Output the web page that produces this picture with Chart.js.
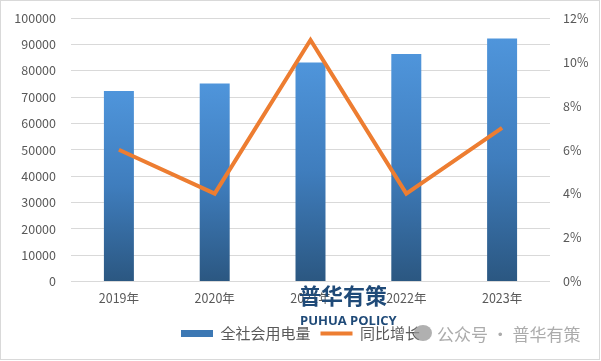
<!DOCTYPE html>
<html>
<head>
<meta charset="utf-8">
<script src="https://cdn.jsdelivr.net/npm/chart.js@4/dist/chart.umd.min.js"></script>
<style>
  html, body { margin: 0; padding: 0; background: #fff; }
  #wrap { position: relative; width: 601px; height: 361px; overflow: hidden; }
  #frame { position: absolute; left: 0; top: 0; width: 598px; height: 358px; border: 1px solid #d9d9d9; box-sizing: content-box; pointer-events: none; }
  canvas { position: absolute; left: 0; top: 0; }
  .wm1 { position: absolute; left: 299px; top: 281px; font: bold 22px "Noto Sans CJK SC", sans-serif; color: #1f4a78; letter-spacing: 0px; line-height: 26px; white-space: nowrap; }
  .wm2 { position: absolute; left: 300px; top: 312px; font: bold 13px "Open Sans", "Noto Sans", sans-serif; color: #1f4a78; line-height: 16px; white-space: nowrap; }
  .wm3 { position: absolute; left: 437px; top: 322px; font: 17px "Noto Sans CJK SC", sans-serif; color: rgba(150,150,150,0.8); line-height: 24px; white-space: nowrap; }
  .wmicon { position: absolute; left: 414px; top: 325px; width: 18px; height: 16px; border-radius: 50%; background: rgba(150,150,150,0.75); }
</style>
</head>
<body>
<div id="wrap">
  <canvas id="c" width="601" height="361"></canvas>
  <div id="frame"></div>
  <div class="wm1">普华有策</div>
  <div class="wm2">PUHUA POLICY</div>
  <div class="wmicon"></div>
  <div class="wm3">公众号 · 普华有策</div>
</div>
<script>
const categories = ['2019年', '2020年', '2021年', '2022年', '2023年'];
const consumption = [72255, 75110, 83128, 86372, 92241];
const growthPct = [6, 4, 11, 4, 7];
const leftTicks = [0, 10000, 20000, 30000, 40000, 50000, 60000, 70000, 80000, 90000, 100000];
const rightTicks = [0, 2, 4, 6, 8, 10, 12];
const seriesNames = ['全社会用电量', '同比增长'];

const FONT = '"Noto Sans CJK SC", "Microsoft YaHei", sans-serif';
const TXT = '#595959';

function barGradient(ctx) {
  const chart = ctx.chart;
  const s = chart.scales && chart.scales.y;
  if (!s || ctx.type !== 'data' || !chart.chartArea) return '#3c78b4';
  const top = s.getPixelForValue(ctx.raw);
  const bot = s.getPixelForValue(0);
  const g = chart.ctx.createLinearGradient(0, top, 0, bot);
  g.addColorStop(0, '#4f95db');
  g.addColorStop(0.5, '#3f7dbd');
  g.addColorStop(1, '#2b5781');
  return g;
}

new Chart(document.getElementById('c'), {
  data: {
    labels: categories,
    datasets: [
      {
        type: 'line',
        label: seriesNames[1],
        data: growthPct,
        yAxisID: 'y1',
        borderColor: '#ed7d31',
        backgroundColor: '#ed7d31',
        borderWidth: 4,
        pointRadius: 0,
        tension: 0,
        order: 0
      },
      {
        type: 'bar',
        label: seriesNames[0],
        data: consumption,
        yAxisID: 'y',
        backgroundColor: barGradient,
        categoryPercentage: 1,
        barPercentage: 0.313,
        order: 1
      }
    ]
  },
  options: {
    responsive: false,
    animation: false,
    devicePixelRatio: 1,
    layout: { padding: { top: 18, left: 0, right: 0, bottom: 10 } },
    plugins: {
      tooltip: { enabled: false },
      legend: {
        position: 'bottom',
        labels: {
          font: { family: FONT, size: 15 },
          color: TXT,
          usePointStyle: true,
          pointStyleWidth: 32,
          boxWidth: 32,
          boxHeight: 7,
          padding: 10,
          generateLabels: (chart) => [
            { text: seriesNames[0], datasetIndex: 1, fillStyle: '#3c78b4', strokeStyle: '#3c78b4', lineWidth: 0, pointStyle: 'rect', fontColor: TXT },
            { text: seriesNames[1], datasetIndex: 0, fillStyle: '#ed7d31', strokeStyle: '#ed7d31', lineWidth: 4, pointStyle: 'line', fontColor: TXT }
          ]
        }
      }
    },
    scales: {
      x: {
        grid: { display: false, drawTicks: false },
        border: { display: false },
        ticks: { font: { family: FONT, size: 12.5 }, color: TXT, padding: 9 },
        afterFit: (s) => { s.height = 34.5; }
      },
      y: {
        position: 'left',
        min: 0, max: 100000,
        afterBuildTicks: (s) => { s.ticks = leftTicks.map(v => ({ value: v })); },
        grid: { color: '#d9d9d9', lineWidth: 1, drawTicks: false },
        border: { display: false },
        ticks: { font: { family: FONT, size: 12.5 }, color: TXT, padding: 15, callback: (v) => String(v) },
        afterFit: (s) => { s.width = 71; s.paddingTop = 0; s.paddingBottom = 0; }
      },
      y1: {
        position: 'right',
        min: 0, max: 12,
        afterBuildTicks: (s) => { s.ticks = rightTicks.map(v => ({ value: v })); },
        grid: { display: false, drawTicks: false },
        border: { display: false },
        ticks: { font: { family: FONT, size: 12.5 }, color: TXT, padding: 13, callback: (v) => v + '%' },
        afterFit: (s) => { s.width = 51; s.paddingTop = 0; s.paddingBottom = 0; }
      }
    }
  }
});
</script>
</body>
</html>
